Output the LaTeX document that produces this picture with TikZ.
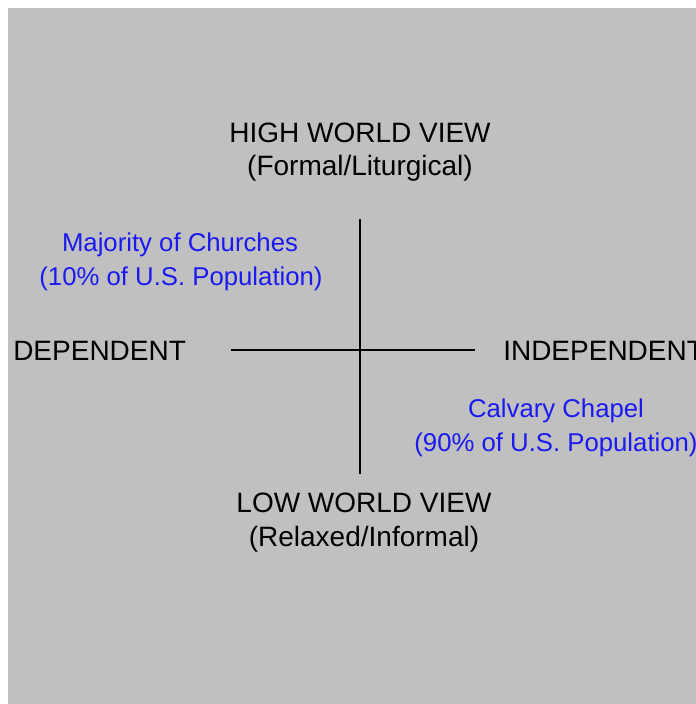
\documentclass[tikz,border=0pt]{standalone}
\usepackage{fontspec}
\setmainfont{Liberation Sans}
\definecolor{bggray}{HTML}{C0C0C0}
\definecolor{labelblue}{HTML}{1A1AF0}
\begin{document}
\begin{tikzpicture}[x=0.75pt,y=-0.75pt,
  axislabel/.style={font=\fontsize{21}{25}\selectfont, text=black, inner sep=0pt},
  quadlabel/.style={font=\fontsize{19.3}{23}\selectfont, text=labelblue, inner sep=0pt},
  axisline/.style={draw=black, line width=1.1pt}]
\useasboundingbox (0,0) rectangle (696,704);
\fill[bggray] (8,8) rectangle (696,704);
% axes
\coordinate (top) at (360,219);
\coordinate (bottom) at (360,474);
\coordinate (left) at (231,350);
\coordinate (right) at (475,350);
\draw[axisline] (top) -- (bottom);
\draw[axisline] (left) -- (right);
% axis labels
\node[axislabel] (high) at (360,133) {HIGH WORLD VIEW};
\node[axislabel] (formal) at (360,168) {(Formal/Liturgical)};
\node[axislabel] (low) at (364,503) {LOW WORLD VIEW};
\node[axislabel] (relaxed) at (364,539) {(Relaxed/Informal)};
\node[axislabel, anchor=west] (dep) at (13,351) {DEPENDENT};
\begin{scope}
\clip (8,8) rectangle (696,704);
\node[axislabel, anchor=west] (indep) at (503,351) {INDEPENDENT};
\end{scope}
% quadrant labels
\node[quadlabel] (maj) at (180,245) {Majority of Churches};
\node[quadlabel] (majpct) at (181,279) {(10\% of U.S. Population)};
\node[quadlabel] (cal) at (556,411) {Calvary Chapel};
\node[quadlabel] (calpct) at (556,445) {(90\% of U.S. Population)};
\end{tikzpicture}
\end{document}
